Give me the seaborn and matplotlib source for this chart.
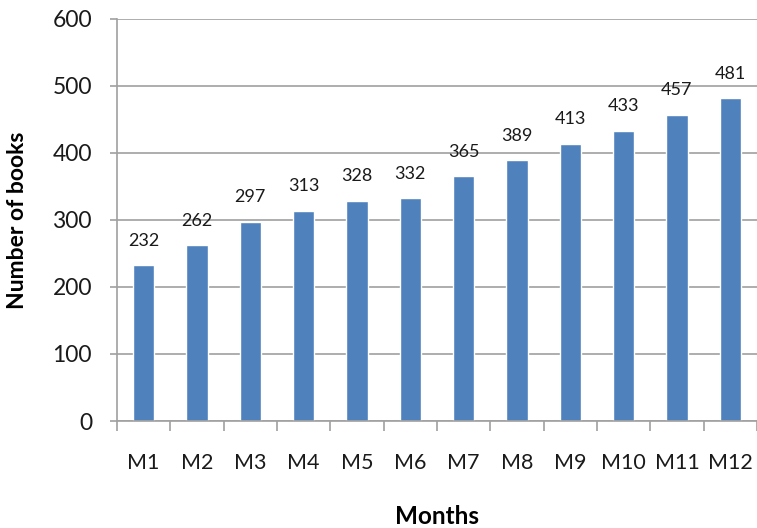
import numpy as np
import pandas as pd
import matplotlib
matplotlib.use("Agg")
import matplotlib.pyplot as plt
import seaborn as sns

# chart data
months = ["M1", "M2", "M3", "M4", "M5", "M6", "M7", "M8", "M9", "M10", "M11", "M12"]
books = [232, 262, 297, 313, 328, 332, 365, 389, 413, 433, 457, 481]
y_ticks = [0, 100, 200, 300, 400, 500, 600]

sns.set_theme(style="white")
plt.rcParams["font.family"] = ["Lato", "DejaVu Sans"]

W, H = 757, 528
fig = plt.figure(figsize=(W / 100, H / 100), dpi=100)
ax = fig.add_axes([117 / W, 1 - 421 / H, 640 / W, 402.3 / H])

df = pd.DataFrame({"month": months, "books": books})
sns.barplot(data=df, x="month", y="books", color="#4F81BD", saturation=1,
            width=0.4, ax=ax)

grey = "#A0A0A0"
ax.set_ylim(0, 600)
ax.set_xlim(-0.5, len(months) - 0.5)
ax.set_yticks(y_ticks)
ax.yaxis.grid(True, color=grey, linewidth=1.2)
ax.set_axisbelow(True)

for s in ["top", "right"]:
    ax.spines[s].set_visible(False)
for s in ["left", "bottom"]:
    ax.spines[s].set_color(grey)
    ax.spines[s].set_linewidth(1.2)

ax.tick_params(axis="y", length=5, width=1.2, color=grey, pad=13,
               labelsize=16.5, labelcolor="#1a1a1a", left=True)
ax.set_xticks(np.arange(-0.5, len(months), 1.0), minor=True)
ax.tick_params(axis="x", which="minor", length=7, width=1.2, color=grey,
               bottom=True)
ax.tick_params(axis="x", which="major", length=0, pad=23, labelsize=15.5,
               labelcolor="#1a1a1a")

for i, v in enumerate(books):
    ax.annotate(str(v), (i, v), xytext=(0, 12), textcoords="offset points",
                ha="center", va="bottom", fontsize=13, color="#1a1a1a")

ax.set_xlabel("")
ax.set_ylabel("")
fig.text(437 / W, 1 - 516 / H, "Months", ha="center", va="center",
         fontsize=17.5, fontweight="bold", color="black")
fig.text(18 / W, 1 - 220 / H, "Number of books", ha="center", va="center",
         rotation=90, fontsize=16.5, fontweight="bold", color="black")

fig.savefig("out.png", dpi=100)
